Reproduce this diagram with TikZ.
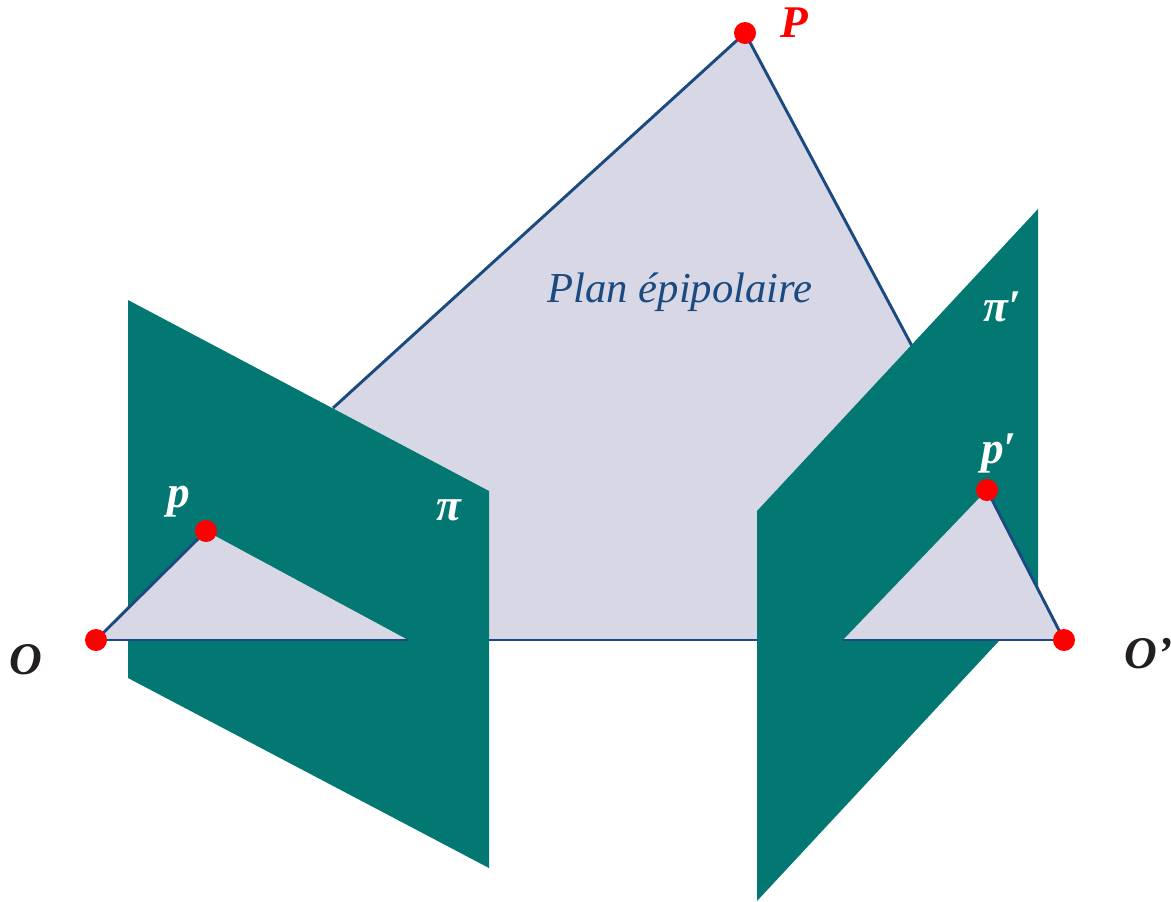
\documentclass[tikz,border=0pt]{standalone}
\usepackage{fontspec}
\setmainfont{Liberation Serif}
\usepackage{xcolor}
\usetikzlibrary{positioning,backgrounds}
\definecolor{planteal}{HTML}{037872}
\definecolor{planegrey}{HTML}{D7D7E5}
\definecolor{edgeblue}{HTML}{1A4A80}
\definecolor{textblack}{HTML}{231F20}
\tikzset{
    plane/.style={fill=planteal, draw=none},
    epi/.style={fill=planegrey, draw=none},
    edge/.style={draw=edgeblue, line width=2.2pt},
    point/.style={circle, fill=red, inner sep=0pt, minimum size=16.5pt},
    lab/.style={inner sep=0pt, font=\bfseries\itshape\fontsize{34}{34}\selectfont},
}
\begin{document}
\begin{tikzpicture}[x=0.75pt, y=-0.75pt]
        \useasboundingbox (0,0) rectangle (1171,901);
        % corners of the epipolar plane
        \coordinate (a1) at (333,408);
        \coordinate (a2) at (912,346);
        \coordinate (ml) at (408,640);
        \coordinate (mr) at (843,640);
        \node [point] (P)  at (745,33)  {};
        \node [point] (O)  at (96,640)  {};
        \node [point] (Q)  at (1064,640) {};
        \node [point] (p)  at (206,531) {};
        \node [point] (q)  at (987,490) {};
        \begin{scope}[on background layer]
            \fill [epi] (a1) -- (P.center) -- (a2) -- (mr) -- (ml) -- cycle;
            \draw [edge] (a1) -- (P.center);
            \draw [edge] (P.center) -- (a2);
            \draw [edge] (ml) -- (mr);
            % image planes
            \fill [plane] (128,300) -- (489,491) -- (489,868) -- (128,678) -- cycle;
            \fill [plane] (757,511) -- (1038,209) -- (1038,599) -- (757,901) -- cycle;
            \fill [epi] (O.center) -- (p.center) -- (ml) -- cycle;
            \fill [epi] (mr) -- (q.center) -- (Q.center) -- cycle;
            \draw [edge] (O.center) -- (p.center);
            \draw [edge] (O.center) -- (ml);
            \draw [edge] (q.center) -- (Q.center);
            \draw [edge] (Q.center) -- (mr);
        \end{scope}
        \node [lab, red, right=18pt of P, yshift=7.5pt] (Plab) {P};
        \node [lab, textblack] (Olab) at (26,660) {O};
        \node [lab, textblack, anchor=west] (Qlab) at (1124,654) {O’};
        \node [lab, white] (plab) at (179,502) {p};
        \node [lab, white] (qlab) at (999,453) {p′};
        \node [lab, white] (pilab) at (449,510) {π};
        \node [lab, white] (qilab) at (1002,307) {π′};
        \node [inner sep=0pt, text=edgeblue, font=\itshape\fontsize{32}{32}\selectfont] (title) at (680,292) {Plan épipolaire};
    \end{tikzpicture}
\end{document}
